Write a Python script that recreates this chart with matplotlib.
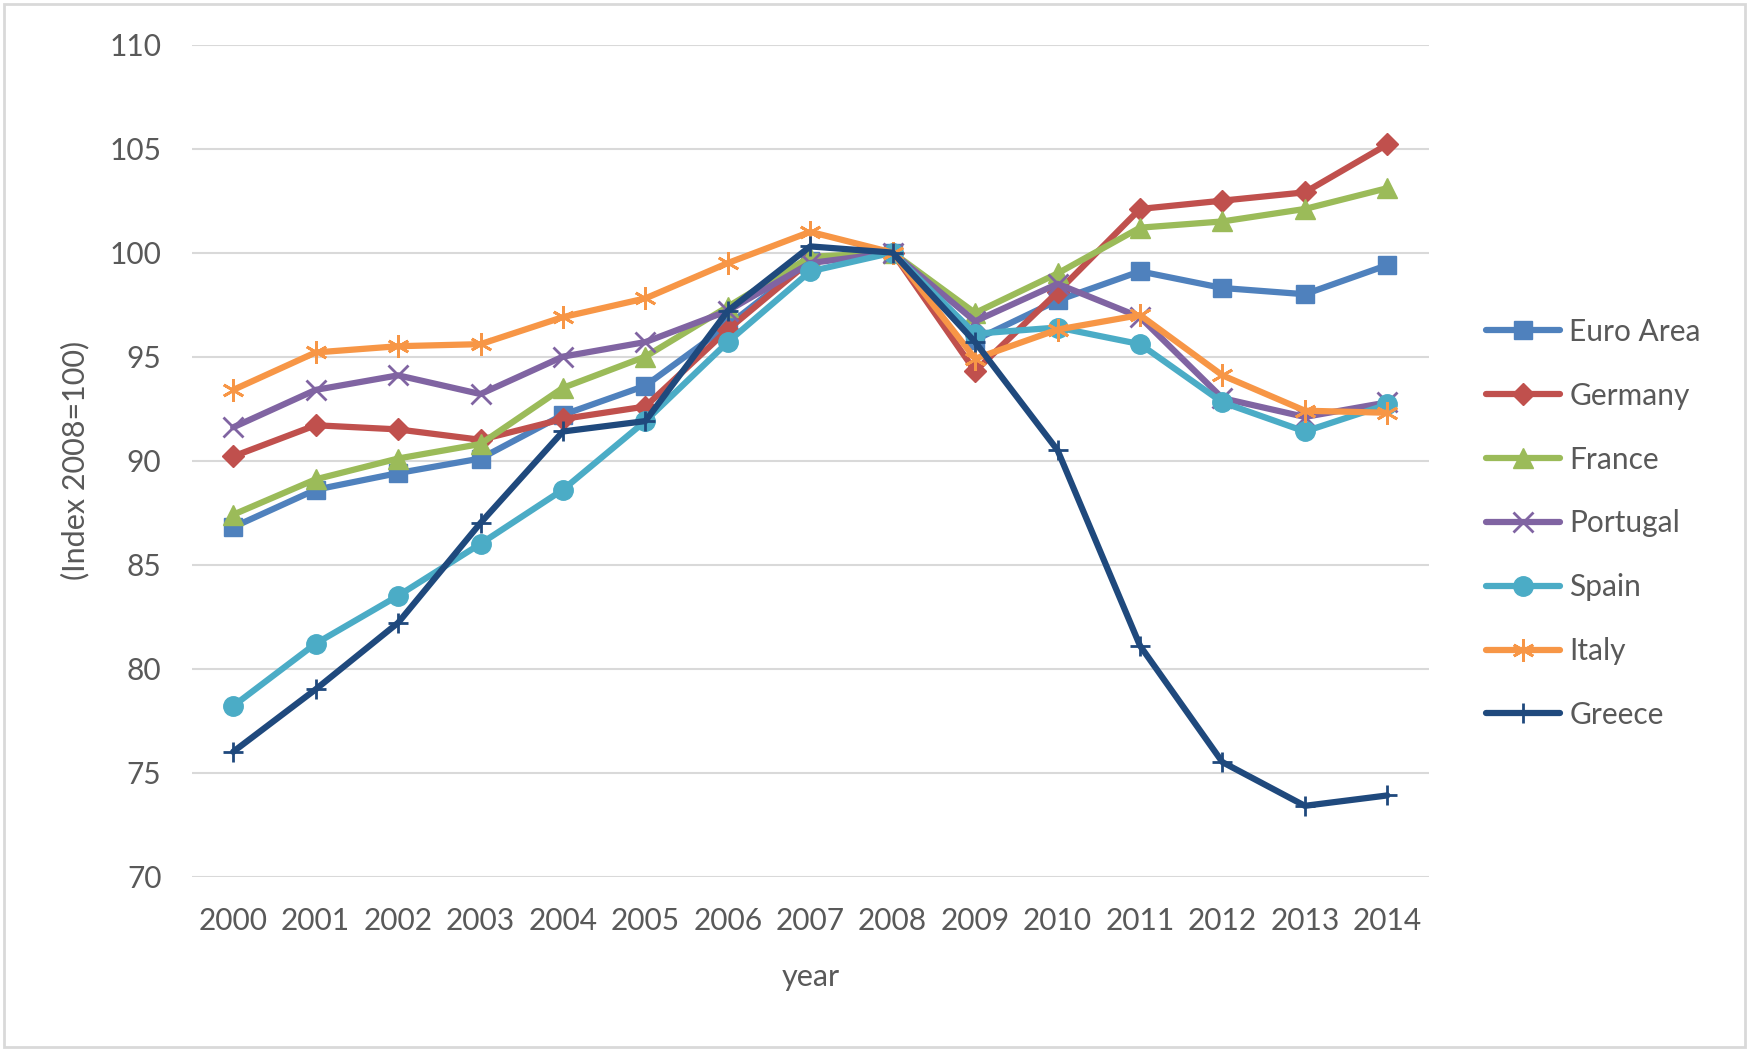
import matplotlib.pyplot as plt
from matplotlib.patches import Rectangle

plt.rcParams['font.family'] = ['Lato', 'DejaVu Sans']

years = list(range(2000, 2015))

euro_area = [86.8, 88.6, 89.4, 90.1, 92.2, 93.6, 96.5, 99.6, 100.0, 95.8, 97.7, 99.1, 98.3, 98.0, 99.4]
germany = [90.2, 91.7, 91.5, 91.0, 92.0, 92.6, 96.3, 99.6, 100.0, 94.3, 98.1, 102.1, 102.5, 102.9, 105.2]
france = [87.4, 89.1, 90.1, 90.8, 93.5, 95.0, 97.4, 99.8, 100.0, 97.1, 99.0, 101.2, 101.5, 102.1, 103.1]
portugal = [91.6, 93.4, 94.1, 93.2, 95.0, 95.7, 97.2, 99.5, 100.0, 96.7, 98.5, 96.9, 93.0, 92.1, 92.8]
spain = [78.2, 81.2, 83.5, 86.0, 88.6, 91.9, 95.7, 99.1, 100.0, 96.1, 96.4, 95.6, 92.8, 91.4, 92.7]
italy = [93.4, 95.2, 95.5, 95.6, 96.9, 97.8, 99.5, 101.0, 100.0, 94.9, 96.3, 97.0, 94.1, 92.4, 92.3]
greece = [76.0, 79.0, 82.2, 87.0, 91.4, 91.9, 97.2, 100.3, 100.0, 95.7, 90.5, 81.1, 75.5, 73.4, 73.9]

series = [
    ("Euro Area", euro_area, "#4F81BD", "s", 13, 1),
    ("Germany", germany, "#C0504D", "D", 11, 1),
    ("France", france, "#9BBB59", "^", 14, 1),
    ("Portugal", portugal, "#8064A2", "x", 14, 2),
    ("Spain", spain, "#4BACC6", "o", 14, 1),
    ("Italy", italy, "#F79646", (6, 2, 0), 16, 2),
    ("Greece", greece, "#1F497D", "+", 15, 2),
]

fig = plt.figure(figsize=(17.5, 10.51), dpi=100)
ax = fig.add_axes([0.1097, 0.166, 0.7066, 0.7915])

for name, vals, col, mk, ms, mew in series:
    ax.plot(years, vals, color=col, lw=4.5, marker=mk, markersize=ms,
            markeredgewidth=mew, markeredgecolor=col, markerfacecolor=col,
            label=name, solid_joinstyle='round', solid_capstyle='round')

ax.set_xlim(1999.5, 2014.5)
ax.set_ylim(70, 110)
ax.set_yticks(range(70, 111, 5))
ax.set_xticks(years)
ax.grid(axis='y', color='#D9D9D9', lw=1.5)
ax.set_axisbelow(True)
for s in ax.spines.values():
    s.set_visible(False)
ax.tick_params(length=0, labelsize=21.5, colors='#595959')
ax.tick_params(axis='y', pad=22)
ax.tick_params(axis='x', pad=22)

ax.set_xlabel("year", fontsize=22, color='#595959', labelpad=20)
fig.text(0.043, 0.562, "(Index 2008=100)", rotation=90, fontsize=22,
         color='#595959', ha='center', va='center')

leg = ax.legend(loc='center left', bbox_to_anchor=(0.849, 0.502), bbox_transform=fig.transFigure,
                frameon=False, fontsize=21.5, labelcolor='#595959', handlelength=2.5,
                handletextpad=0.3, labelspacing=1.2, borderpad=0, borderaxespad=0)

fig.patches.append(Rectangle((0.002, 0.004), 0.995, 0.992, transform=fig.transFigure,
                             fill=False, edgecolor='#D9D9D9', lw=2))

fig.savefig("out.png", dpi=100, facecolor='white')
